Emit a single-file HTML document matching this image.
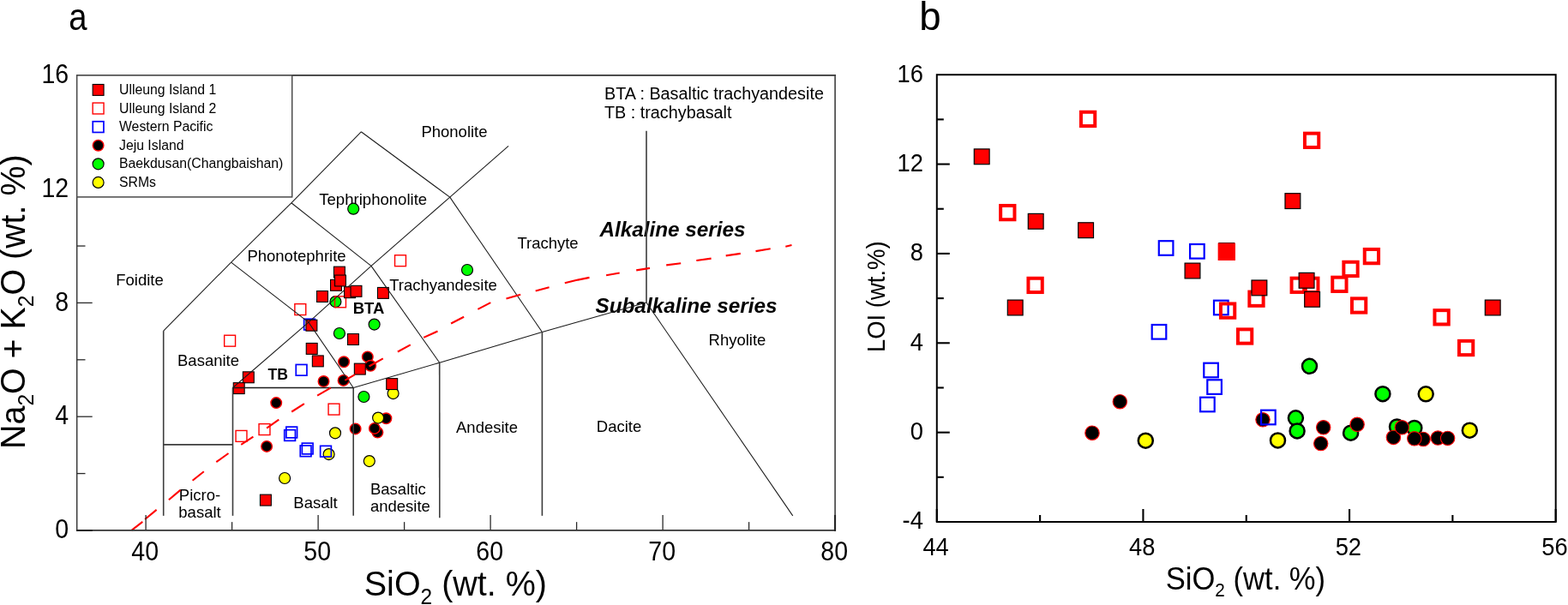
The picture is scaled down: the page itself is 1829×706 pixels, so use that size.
<!DOCTYPE html>
<html lang="en">
<head>
<meta charset="utf-8">
<title>TAS diagram and LOI vs SiO2</title>
<style>
html,body{margin:0;padding:0;background:#fff;}
body{width:1829px;height:706px;overflow:hidden;}
svg{display:block;font-family:"Liberation Sans", Arial, Helvetica, sans-serif;}

.tas{fill:none;stroke:#1a1a1a;stroke-width:1.05;}
.tasv{fill:none;stroke:#3c3c3c;stroke-width:1.6;}
.tasb{fill:none;stroke:#1a1a1a;stroke-width:1.6;}
.dash{fill:none;stroke:#ff0000;stroke-width:2.1;}
.frameA{fill:none;stroke:#2a2a2a;stroke-width:1.7;}
.frameB{fill:none;stroke:#000;stroke-width:2.0;}
.tickA{stroke:#2a2a2a;stroke-width:1.3;}
.tickB{stroke:#000;stroke-width:2.1;}
.legbox{fill:#fff;stroke:#4a4a4a;stroke-width:1.5;}
.tlA{font-size:28.5px;fill:#000;}
.tlB{font-size:27.3px;fill:#000;}
.leg{font-size:15.8px;fill:#000;}
.fld{font-size:18.5px;fill:#000;}
.fldb{font-size:18.5px;font-weight:bold;fill:#000;}
.note{font-size:19.8px;fill:#000;}
  .ser{font-size:24.3px;font-weight:bold;font-style:italic;fill:#000;}
.axA{font-size:39.2px;fill:#000;}
.axB{font-size:34.6px;fill:#000;}
.pl{font-size:43.5px;fill:#000;}

</style>
</head>
<body>
<svg width="1829" height="706" viewBox="0 0 1829 706">
<rect x="0" y="0" width="1829" height="706" fill="#ffffff"/>
<g id="panel-a">
<text class="fld" transform="translate(530,159.5) scale(1,1.04)" text-anchor="middle">Phonolite</text>
<text class="fld" transform="translate(435.2,238.5) scale(1,1.04)" text-anchor="middle" textLength="126" lengthAdjust="spacingAndGlyphs">Tephriphonolite</text>
<text class="fld" transform="translate(346,304.5) scale(1,1.04)" text-anchor="middle">Phonotephrite</text>
<text class="fld" transform="translate(163,333) scale(1,1.04)" text-anchor="middle">Foidite</text>
<text class="fld" transform="translate(639,289.5) scale(1,1.04)" text-anchor="middle">Trachyte</text>
<text class="fld" transform="translate(517,339) scale(1,1.04)" text-anchor="middle">Trachyandesite</text>
<text class="fldb" transform="translate(430,365.5) scale(1,1.04)" text-anchor="middle">BTA</text>
<text class="fld" transform="translate(243,426.5) scale(1,1.04)" text-anchor="middle">Basanite</text>
<text class="fldb" transform="translate(324.2,443.4) scale(1,1.04)" text-anchor="middle" style="font-size:17.6px">TB</text>
<text class="fld" transform="translate(233,584.3) scale(1,1.04)" text-anchor="middle">Picro-</text>
<text class="fld" transform="translate(233,604) scale(1,1.04)" text-anchor="middle">basalt</text>
<text class="fld" transform="translate(368,592.6) scale(1,1.04)" text-anchor="middle">Basalt</text>
<text class="fld" transform="translate(432,576.8) scale(1,1.04)">Basaltic</text>
<text class="fld" transform="translate(432,596.8) scale(1,1.04)">andesite</text>
<text class="fld" transform="translate(568,504.5) scale(1,1.04)" text-anchor="middle">Andesite</text>
<text class="fld" transform="translate(722,504) scale(1,1.04)" text-anchor="middle">Dacite</text>
<text class="fld" transform="translate(860,403) scale(1,1.04)" text-anchor="middle">Rhyolite</text>
<text class="ser" transform="translate(784.5,276) scale(1,1)" text-anchor="middle">Alkaline series</text>
<text class="ser" transform="translate(800.5,364.5) scale(1,1)" text-anchor="middle">Subalkaline series</text>
<text class="note" transform="translate(705,116) scale(1,1.04)">BTA : Basaltic trachyandesite</text>
<text class="note" transform="translate(705,138) scale(1,1.04)">TB : trachybasalt</text>
<circle cx="458.6" cy="459.1" r="6.5" fill="#ffff00" stroke="#000" stroke-width="1.2"/>
<circle cx="391" cy="505.3" r="6.5" fill="#ffff00" stroke="#000" stroke-width="1.2"/>
<circle cx="383.6" cy="530.1" r="6.5" fill="#ffff00" stroke="#000" stroke-width="1.2"/>
<circle cx="430.8" cy="538.1" r="6.5" fill="#ffff00" stroke="#000" stroke-width="1.2"/>
<circle cx="332.1" cy="558" r="6.5" fill="#ffff00" stroke="#000" stroke-width="1.2"/>
<circle cx="401.1" cy="422.3" r="6.3" fill="#000" stroke="#ff0000" stroke-width="1.4"/>
<circle cx="428.8" cy="416.4" r="6.3" fill="#000" stroke="#ff0000" stroke-width="1.4"/>
<circle cx="432.2" cy="426.8" r="6.3" fill="#000" stroke="#ff0000" stroke-width="1.4"/>
<circle cx="377.5" cy="445" r="6.3" fill="#000" stroke="#ff0000" stroke-width="1.4"/>
<circle cx="400.6" cy="443.9" r="6.3" fill="#000" stroke="#ff0000" stroke-width="1.4"/>
<circle cx="322.2" cy="470.1" r="6.3" fill="#000" stroke="#ff0000" stroke-width="1.4"/>
<circle cx="311.1" cy="520.9" r="6.3" fill="#000" stroke="#ff0000" stroke-width="1.4"/>
<circle cx="414.6" cy="500.4" r="6.3" fill="#000" stroke="#ff0000" stroke-width="1.4"/>
<circle cx="440.4" cy="504.6" r="6.3" fill="#000" stroke="#ff0000" stroke-width="1.4"/>
<circle cx="436.9" cy="499.9" r="6.3" fill="#000" stroke="#ff0000" stroke-width="1.4"/>
<circle cx="450.4" cy="488.3" r="6.3" fill="#000" stroke="#ff0000" stroke-width="1.4"/>
<circle cx="441.1" cy="487.6" r="6.5" fill="#ffff00" stroke="#000" stroke-width="1.2"/>
<rect x="354.65" y="372.25" width="12.7" height="12.7" fill="none" stroke="#0000ff" stroke-width="1.7"/>
<rect x="345.25" y="425.45" width="12.7" height="12.7" fill="none" stroke="#0000ff" stroke-width="1.7"/>
<rect x="331.75" y="501.65" width="12.7" height="12.7" fill="none" stroke="#0000ff" stroke-width="1.7"/>
<rect x="333.85" y="498.15" width="12.7" height="12.7" fill="none" stroke="#0000ff" stroke-width="1.7"/>
<rect x="350.25" y="519.95" width="12.7" height="12.7" fill="none" stroke="#0000ff" stroke-width="1.7"/>
<rect x="352.35" y="517.15" width="12.7" height="12.7" fill="none" stroke="#0000ff" stroke-width="1.7"/>
<rect x="373.65" y="520.35" width="12.7" height="12.7" fill="none" stroke="#0000ff" stroke-width="1.7"/>
<rect x="460.55" y="297.75" width="12.9" height="12.9" fill="none" stroke="#ff0000" stroke-width="1.4"/>
<rect x="343.85" y="354.65" width="12.9" height="12.9" fill="none" stroke="#ff0000" stroke-width="1.4"/>
<rect x="261.65" y="391.25" width="12.9" height="12.9" fill="none" stroke="#ff0000" stroke-width="1.4"/>
<rect x="383.05" y="471.15" width="12.9" height="12.9" fill="none" stroke="#ff0000" stroke-width="1.4"/>
<rect x="302.05" y="494.65" width="12.9" height="12.9" fill="none" stroke="#ff0000" stroke-width="1.4"/>
<rect x="275.05" y="502.45" width="12.9" height="12.9" fill="none" stroke="#ff0000" stroke-width="1.4"/>
<circle cx="412.2" cy="243.7" r="6.5" fill="#00ff00" stroke="#000" stroke-width="1.2"/>
<circle cx="545" cy="315" r="6.5" fill="#00ff00" stroke="#000" stroke-width="1.2"/>
<circle cx="391.4" cy="352.1" r="6.5" fill="#00ff00" stroke="#000" stroke-width="1.2"/>
<circle cx="436.6" cy="378.6" r="6.5" fill="#00ff00" stroke="#000" stroke-width="1.2"/>
<circle cx="395.9" cy="389" r="6.5" fill="#00ff00" stroke="#000" stroke-width="1.2"/>
<circle cx="424.4" cy="463" r="6.5" fill="#00ff00" stroke="#000" stroke-width="1.2"/>
<rect x="390.55" y="345.85" width="12.9" height="12.9" fill="none" stroke="#ff0000" stroke-width="1.4"/>
<rect x="369.55" y="339.55" width="12.9" height="12.9" fill="#ff0000" stroke="#000" stroke-width="1.1"/>
<rect x="440.45" y="335.45" width="12.9" height="12.9" fill="#ff0000" stroke="#000" stroke-width="1.1"/>
<rect x="356.95" y="373.25" width="12.9" height="12.9" fill="#ff0000" stroke="#000" stroke-width="1.1"/>
<rect x="405.55" y="389.55" width="12.9" height="12.9" fill="#ff0000" stroke="#000" stroke-width="1.1"/>
<rect x="357.25" y="400.45" width="12.9" height="12.9" fill="#ff0000" stroke="#000" stroke-width="1.1"/>
<rect x="364.35" y="414.95" width="12.9" height="12.9" fill="#ff0000" stroke="#000" stroke-width="1.1"/>
<rect x="413.35" y="424.15" width="12.9" height="12.9" fill="#ff0000" stroke="#000" stroke-width="1.1"/>
<rect x="283.35" y="433.85" width="12.9" height="12.9" fill="#ff0000" stroke="#000" stroke-width="1.1"/>
<rect x="272.25" y="446.65" width="12.9" height="12.9" fill="#ff0000" stroke="#000" stroke-width="1.1"/>
<rect x="450.75" y="441.65" width="12.9" height="12.9" fill="#ff0000" stroke="#000" stroke-width="1.1"/>
<rect x="303.45" y="577.15" width="12.9" height="12.9" fill="#ff0000" stroke="#000" stroke-width="1.1"/>
<polyline class="tasv" points="190.7,601.85 190.7,386.12"/>
<polyline class="tasv" points="190.7,518.88 271.5,518.88"/>
<polyline class="tasv" points="271.5,601.85 271.5,452.5"/>
<polyline class="tasv" points="412.2,601.85 412.2,452.5"/>
<polyline class="tas" points="412.2,452.5 512.7,423.23"/>
<polyline class="tas" points="512.7,423.23 632.4,387.52"/>
<polyline class="tas" points="632.4,387.52 754,352.93"/>
<polyline class="tasv" points="512.8,604.15 512.7,423.23"/>
<polyline class="tasv" points="632.4,601.85 632.4,387.52"/>
<polyline class="tas" points="754,352.93 924.75,601.85"/>
<polyline class="tasv" points="754,352.93 754,152.78"/>
<polyline class="tas" points="190.7,386.12 269.6,306.06"/>
<polyline class="tas" points="269.6,306.06 339.84,236.76"/>
<polyline class="tas" points="339.84,236.76 421.25,153.78"/>
<polyline class="tas" points="271.5,452.5 359.94,376.16"/>
<polyline class="tas" points="359.94,376.16 433,310.38"/>
<polyline class="tas" points="433,310.38 524.76,230.12"/>
<polyline class="tas" points="524.76,230.12 593.1,170.38"/>
<polyline class="tas" points="269.6,306.06 359.94,376.16"/>
<polyline class="tas" points="359.94,376.16 412.2,452.5"/>
<polyline class="tas" points="339.84,236.76 433,310.38"/>
<polyline class="tas" points="433,310.38 512.7,423.23"/>
<polyline class="tas" points="421.25,153.78 524.76,230.12"/>
<polyline class="tas" points="524.76,230.12 632.4,387.52"/>
<polyline class="tasb" points="271.5,452.5 412.2,452.5"/>
<path class="dash" d="M153.5 618.8L166.3 608.9 M169.1 606L182.6 594.9 M196.9 583.3L210.4 571.9 M224.6 560.8L237.8 550.3 M252.3 539.2L266.5 529 M281.2 518.8L295.4 509.6 M311.1 499.7L325.3 489.7 M340.2 480.5L354.9 471.2 M370.1 461.6L385.7 452.7 M402.3 443.8L414 437.1 M430.5 427.5L446.8 418.3 M463.9 410.5L478.8 402.4 M494.2 393.9L510.5 386.5 M526.1 377.5L541.1 369.7 M557.4 360.9L572.3 353.1 M590.5 348.4L607.2 343.8 M624.7 339.4L640.6 335.3 M658.8 330.3L674 326.6 M674 326.6L687.5 323.9 M707.1 321.2L722.7 318.5 M742.2 315.4L758 312.9 M777.2 309.4L794.2 307.3 M812.3 304L829.6 301.6 M846.7 298.4L863.8 295.9 M881.5 293.1L898.7 290.3 M916.3 287.7L923.5 286"/>
<rect x="385.55" y="326.35" width="12.9" height="12.9" fill="#ff0000" stroke="#000" stroke-width="1.1"/>
<rect x="389.45" y="311.15" width="12.9" height="12.9" fill="#ff0000" stroke="#000" stroke-width="1.1"/>
<rect x="390.55" y="321.05" width="12.9" height="12.9" fill="#ff0000" stroke="#000" stroke-width="1.1"/>
<rect x="401.55" y="334.75" width="12.9" height="12.9" fill="#ff0000" stroke="#000" stroke-width="1.1"/>
<rect x="409.05" y="333.35" width="12.9" height="12.9" fill="#ff0000" stroke="#000" stroke-width="1.1"/>
<line x1="89" y1="87.9" x2="975" y2="87.9" stroke="#333" stroke-width="1.75"/>
<line x1="89" y1="618.95" x2="975" y2="618.95" stroke="#333" stroke-width="1.8"/>
<line x1="89.7" y1="87.9" x2="89.7" y2="618.95" stroke="#3a3a3a" stroke-width="1.5"/>
<line x1="974.1" y1="87.9" x2="974.1" y2="618.95" stroke="#4a4a4a" stroke-width="1.7"/>
<line class="tickA" x1="89.7" y1="618.95" x2="107.7" y2="618.95"/>
<line class="tickA" x1="89.7" y1="486.19" x2="107.7" y2="486.19"/>
<line class="tickA" x1="89.7" y1="353.43" x2="107.7" y2="353.43"/>
<line class="tickA" x1="89.7" y1="220.66" x2="107.7" y2="220.66"/>
<line class="tickA" x1="89.7" y1="552.57" x2="99.5" y2="552.57"/>
<line class="tickA" x1="89.7" y1="419.81" x2="99.5" y2="419.81"/>
<line class="tickA" x1="89.7" y1="287.04" x2="99.5" y2="287.04"/>
<line class="tickA" x1="89.7" y1="154.28" x2="99.5" y2="154.28"/>
<line class="tickA" x1="170.1" y1="618.95" x2="170.1" y2="600.95"/>
<line class="tickA" x1="371.1" y1="618.95" x2="371.1" y2="600.95"/>
<line class="tickA" x1="572.1" y1="618.95" x2="572.1" y2="600.95"/>
<line class="tickA" x1="773.1" y1="618.95" x2="773.1" y2="600.95"/>
<line class="tickA" x1="974.1" y1="618.95" x2="974.1" y2="600.95"/>
<line class="tickA" x1="270.6" y1="618.95" x2="270.6" y2="609.15"/>
<line class="tickA" x1="471.6" y1="618.95" x2="471.6" y2="609.15"/>
<line class="tickA" x1="672.6" y1="618.95" x2="672.6" y2="609.15"/>
<line class="tickA" x1="873.6" y1="618.95" x2="873.6" y2="609.15"/>
<line x1="974.1" y1="619.85" x2="974.1" y2="600.95" stroke="#222" stroke-width="2"/>
<line x1="89" y1="618.95" x2="107.7" y2="618.95" stroke="#222" stroke-width="2"/>
<text class="tlA" transform="translate(80.1,628.25) scale(1,1.08)" text-anchor="end">0</text>
<text class="tlA" transform="translate(80.1,495.49) scale(1,1.08)" text-anchor="end">4</text>
<text class="tlA" transform="translate(80.1,362.73) scale(1,1.08)" text-anchor="end">8</text>
<text class="tlA" transform="translate(80.1,229.96) scale(1,1.08)" text-anchor="end">12</text>
<text class="tlA" transform="translate(80.1,97.2) scale(1,1.08)" text-anchor="end">16</text>
<text class="tlA" transform="translate(169.2,653.5) scale(1,1.08)" text-anchor="middle">40</text>
<text class="tlA" transform="translate(370.2,653.5) scale(1,1.08)" text-anchor="middle">50</text>
<text class="tlA" transform="translate(571.2,653.5) scale(1,1.08)" text-anchor="middle">60</text>
<text class="tlA" transform="translate(772.2,653.5) scale(1,1.08)" text-anchor="middle">70</text>
<text class="tlA" transform="translate(973.2,653.5) scale(1,1.08)" text-anchor="middle">80</text>
<rect class="legbox" x="89.7" y="87.9" width="251" height="142"/>
<rect x="108.15" y="98.45" width="12.9" height="12.9" fill="#ff0000" stroke="#000" stroke-width="1.1"/>
<text class="leg" transform="translate(139,109.9) scale(1,1.04)">Ulleung Island 1</text>
<rect x="108.15" y="120.05" width="12.9" height="12.9" fill="none" stroke="#ff0000" stroke-width="1.4"/>
<text class="leg" transform="translate(139,131.5) scale(1,1.04)">Ulleung Island 2</text>
<rect x="108.25" y="141.75" width="12.7" height="12.7" fill="none" stroke="#0000ff" stroke-width="1.7"/>
<text class="leg" transform="translate(139,153.1) scale(1,1.04)">Western Pacific</text>
<circle cx="114.6" cy="169.7" r="6.3" fill="#000" stroke="#ff0000" stroke-width="1.4"/>
<text class="leg" transform="translate(139,174.7) scale(1,1.04)">Jeju Island</text>
<circle cx="114.6" cy="191.3" r="6.5" fill="#00ff00" stroke="#000" stroke-width="1.2"/>
<text class="leg" transform="translate(139,196.3) scale(1,1.04)">Baekdusan(Changbaishan)</text>
<circle cx="114.6" cy="212.9" r="6.5" fill="#ffff00" stroke="#000" stroke-width="1.2"/>
<text class="leg" transform="translate(139,217.9) scale(1,1.04)">SRMs</text>

<text class="pl" transform="translate(80.3,35) scale(0.88,1)">a</text>
<text class="axA" transform="translate(531.4,694.6) scale(1,1.045)" text-anchor="middle" style="font-size:39.5px">SiO<tspan font-size="24.5" dy="10.2">2</tspan><tspan dy="-10.2"> (wt. %)</tspan></text>
<text class="axA" transform="translate(28.7,352.2) rotate(-90) scale(1,1.045)" text-anchor="middle" style="font-size:39.4px">Na<tspan font-size="24.5" dy="9.5">2</tspan><tspan dy="-9.5">O + K</tspan><tspan font-size="24.5" dy="9.5">2</tspan><tspan dy="-9.5">O (wt. %)</tspan></text>

</g>
<g id="panel-b">
<circle cx="1336.3" cy="514.2" r="8.5" fill="#ffff00" stroke="#000" stroke-width="2.5"/>
<circle cx="1490.5" cy="513.9" r="8.5" fill="#ffff00" stroke="#000" stroke-width="2.5"/>
<circle cx="1663.2" cy="459.8" r="8.5" fill="#ffff00" stroke="#000" stroke-width="2.5"/>
<circle cx="1714.3" cy="502.2" r="8.5" fill="#ffff00" stroke="#000" stroke-width="2.5"/>
<circle cx="1527.5" cy="427.3" r="8.5" fill="#00ff00" stroke="#000" stroke-width="2.5"/>
<circle cx="1612.9" cy="459.7" r="8.5" fill="#00ff00" stroke="#000" stroke-width="2.5"/>
<circle cx="1511.4" cy="487.8" r="8.5" fill="#00ff00" stroke="#000" stroke-width="2.5"/>
<circle cx="1513.1" cy="502.9" r="8.5" fill="#00ff00" stroke="#000" stroke-width="2.5"/>
<circle cx="1575.6" cy="505.2" r="8.5" fill="#00ff00" stroke="#000" stroke-width="2.5"/>
<circle cx="1629.5" cy="498" r="8.5" fill="#00ff00" stroke="#000" stroke-width="2.5"/>
<circle cx="1649.8" cy="499.5" r="8.5" fill="#00ff00" stroke="#000" stroke-width="2.5"/>
<circle cx="1306.3" cy="468.7" r="8.2" fill="#000" stroke="#ff0000" stroke-width="1.1"/>
<circle cx="1274" cy="505.2" r="8.2" fill="#000" stroke="#ff0000" stroke-width="1.1"/>
<circle cx="1473" cy="489.8" r="8.2" fill="#000" stroke="#ff0000" stroke-width="1.1"/>
<circle cx="1543.7" cy="498.8" r="8.2" fill="#000" stroke="#ff0000" stroke-width="1.1"/>
<circle cx="1540.7" cy="517.6" r="8.2" fill="#000" stroke="#ff0000" stroke-width="1.1"/>
<circle cx="1583.1" cy="495.3" r="8.2" fill="#000" stroke="#ff0000" stroke-width="1.1"/>
<circle cx="1625.4" cy="510.4" r="8.2" fill="#000" stroke="#ff0000" stroke-width="1.1"/>
<circle cx="1635.3" cy="498.8" r="8.2" fill="#000" stroke="#ff0000" stroke-width="1.1"/>
<circle cx="1660.1" cy="512.5" r="8.2" fill="#000" stroke="#ff0000" stroke-width="1.1"/>
<circle cx="1649.8" cy="511.8" r="8.2" fill="#000" stroke="#ff0000" stroke-width="1.1"/>
<circle cx="1677.2" cy="511.1" r="8.2" fill="#000" stroke="#ff0000" stroke-width="1.1"/>
<circle cx="1688.6" cy="511.4" r="8.2" fill="#000" stroke="#ff0000" stroke-width="1.1"/>
<rect x="1351.8" y="281.2" width="16.6" height="16.6" fill="none" stroke="#0000ff" stroke-width="2.2"/>
<rect x="1388.1" y="285" width="16.6" height="16.6" fill="none" stroke="#0000ff" stroke-width="2.2"/>
<rect x="1416" y="350.7" width="16.6" height="16.6" fill="none" stroke="#0000ff" stroke-width="2.2"/>
<rect x="1343.7" y="379" width="16.6" height="16.6" fill="none" stroke="#0000ff" stroke-width="2.2"/>
<rect x="1404.3" y="423.7" width="16.6" height="16.6" fill="none" stroke="#0000ff" stroke-width="2.2"/>
<rect x="1408.3" y="443.3" width="16.6" height="16.6" fill="none" stroke="#0000ff" stroke-width="2.2"/>
<rect x="1400.1" y="463.7" width="16.6" height="16.6" fill="none" stroke="#0000ff" stroke-width="2.2"/>
<rect x="1471.1" y="478.7" width="16.6" height="16.6" fill="none" stroke="#0000ff" stroke-width="2.2"/>
<rect x="1260.95" y="130.75" width="16.3" height="16.3" fill="none" stroke="#ff0000" stroke-width="4.0"/>
<rect x="1167.15" y="239.95" width="16.3" height="16.3" fill="none" stroke="#ff0000" stroke-width="4.0"/>
<rect x="1199.45" y="324.75" width="16.3" height="16.3" fill="none" stroke="#ff0000" stroke-width="4.0"/>
<rect x="1521.95" y="155.65" width="16.3" height="16.3" fill="none" stroke="#ff0000" stroke-width="4.0"/>
<rect x="1423.95" y="354.45" width="16.3" height="16.3" fill="none" stroke="#ff0000" stroke-width="4.0"/>
<rect x="1457.35" y="340.55" width="16.3" height="16.3" fill="none" stroke="#ff0000" stroke-width="4.0"/>
<rect x="1506.55" y="324.65" width="16.3" height="16.3" fill="none" stroke="#ff0000" stroke-width="4.0"/>
<rect x="1521.15" y="324.65" width="16.3" height="16.3" fill="none" stroke="#ff0000" stroke-width="4.0"/>
<rect x="1554.25" y="323.65" width="16.3" height="16.3" fill="none" stroke="#ff0000" stroke-width="4.0"/>
<rect x="1567.35" y="305.75" width="16.3" height="16.3" fill="none" stroke="#ff0000" stroke-width="4.0"/>
<rect x="1591.75" y="290.95" width="16.3" height="16.3" fill="none" stroke="#ff0000" stroke-width="4.0"/>
<rect x="1576.95" y="348.35" width="16.3" height="16.3" fill="none" stroke="#ff0000" stroke-width="4.0"/>
<rect x="1673.45" y="362.15" width="16.3" height="16.3" fill="none" stroke="#ff0000" stroke-width="4.0"/>
<rect x="1443.95" y="384.35" width="16.3" height="16.3" fill="none" stroke="#ff0000" stroke-width="4.0"/>
<rect x="1701.95" y="397.85" width="16.3" height="16.3" fill="none" stroke="#ff0000" stroke-width="4.0"/>
<rect x="1136.3" y="173.9" width="17.8" height="17.8" fill="#ff0000" stroke="#000" stroke-width="1.2"/>
<rect x="1199.3" y="249.4" width="17.8" height="17.8" fill="#ff0000" stroke="#000" stroke-width="1.2"/>
<rect x="1257.7" y="259.8" width="17.8" height="17.8" fill="#ff0000" stroke="#000" stroke-width="1.2"/>
<rect x="1382.1" y="307.1" width="17.8" height="17.8" fill="#ff0000" stroke="#000" stroke-width="1.2"/>
<rect x="1421.9" y="283.6" width="17.8" height="17.8" fill="#ff0000" stroke="#000" stroke-width="1.2"/>
<rect x="1422.65" y="285.65" width="16.3" height="16.3" fill="none" stroke="#ff0000" stroke-width="4.0"/>
<rect x="1175.3" y="350.1" width="17.8" height="17.8" fill="#ff0000" stroke="#000" stroke-width="1.2"/>
<rect x="1499" y="225.7" width="17.8" height="17.8" fill="#ff0000" stroke="#000" stroke-width="1.2"/>
<rect x="1460" y="327" width="17.8" height="17.8" fill="#ff0000" stroke="#000" stroke-width="1.2"/>
<rect x="1515.2" y="318.4" width="17.8" height="17.8" fill="#ff0000" stroke="#000" stroke-width="1.2"/>
<rect x="1521.7" y="340.4" width="17.8" height="17.8" fill="#ff0000" stroke="#000" stroke-width="1.2"/>
<rect x="1732.3" y="350.1" width="17.8" height="17.8" fill="#ff0000" stroke="#000" stroke-width="1.2"/>
<rect class="frameB" x="1092.8" y="87.2" width="721.9" height="521.8"/>
<line class="tickB" x1="1092.8" y1="609" x2="1107.8" y2="609"/>
<line class="tickB" x1="1092.8" y1="504.64" x2="1107.8" y2="504.64"/>
<line class="tickB" x1="1092.8" y1="400.28" x2="1107.8" y2="400.28"/>
<line class="tickB" x1="1092.8" y1="295.92" x2="1107.8" y2="295.92"/>
<line class="tickB" x1="1092.8" y1="191.56" x2="1107.8" y2="191.56"/>
<line class="tickB" x1="1092.8" y1="556.82" x2="1100.8" y2="556.82"/>
<line class="tickB" x1="1092.8" y1="452.46" x2="1100.8" y2="452.46"/>
<line class="tickB" x1="1092.8" y1="348.1" x2="1100.8" y2="348.1"/>
<line class="tickB" x1="1092.8" y1="243.74" x2="1100.8" y2="243.74"/>
<line class="tickB" x1="1092.8" y1="139.38" x2="1100.8" y2="139.38"/>
<line class="tickB" x1="1092.8" y1="609" x2="1092.8" y2="594"/>
<line class="tickB" x1="1333.43" y1="609" x2="1333.43" y2="594"/>
<line class="tickB" x1="1574.07" y1="609" x2="1574.07" y2="594"/>
<line class="tickB" x1="1814.7" y1="609" x2="1814.7" y2="594"/>
<line class="tickB" x1="1213.12" y1="609" x2="1213.12" y2="601"/>
<line class="tickB" x1="1453.75" y1="609" x2="1453.75" y2="601"/>
<line class="tickB" x1="1694.38" y1="609" x2="1694.38" y2="601"/>
<text class="tlB" transform="translate(1076.9,617.4) scale(1,1.08)" text-anchor="end">-4</text>
<text class="tlB" transform="translate(1076.9,513.04) scale(1,1.08)" text-anchor="end">0</text>
<text class="tlB" transform="translate(1076.9,408.68) scale(1,1.08)" text-anchor="end">4</text>
<text class="tlB" transform="translate(1076.9,304.32) scale(1,1.08)" text-anchor="end">8</text>
<text class="tlB" transform="translate(1076.9,199.96) scale(1,1.08)" text-anchor="end">12</text>
<text class="tlB" transform="translate(1076.9,95.6) scale(1,1.08)" text-anchor="end">16</text>
<text class="tlB" transform="translate(1091.6,648) scale(1,1.08)" text-anchor="middle">44</text>
<text class="tlB" transform="translate(1332.23,648) scale(1,1.08)" text-anchor="middle">48</text>
<text class="tlB" transform="translate(1572.87,648) scale(1,1.08)" text-anchor="middle">52</text>
<text class="tlB" transform="translate(1813.5,648) scale(1,1.08)" text-anchor="middle">56</text>

<text class="pl" transform="translate(1072.3,35) scale(1.05,1.08)">b</text>
<text class="axB" transform="translate(1452.9,687.5) scale(1,1.045)" text-anchor="middle">SiO<tspan font-size="20.8" dy="8.5">2</tspan><tspan dy="-8.5"> (wt. %)</tspan></text>
<text style="font-size:27.5px" transform="translate(1032.3,346.2) rotate(-90) scale(1,1.045)" text-anchor="middle">LOI (wt.%)</text>

</g>
</svg>
</body>
</html>
